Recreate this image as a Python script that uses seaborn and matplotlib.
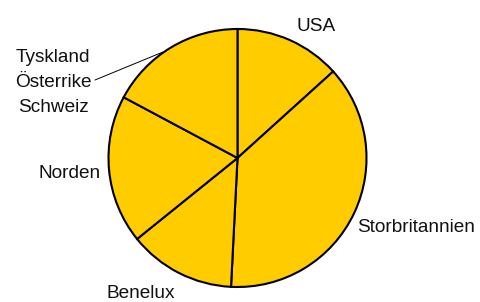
import matplotlib
matplotlib.use("Agg")
import matplotlib.pyplot as plt
import seaborn as sns

# Data (shares, clockwise from 12 o'clock)
regions = ["USA", "Storbritannien", "Benelux", "Norden", "Tyskland\nÖsterrike\nSchweiz"]
shares = [13.3, 37.5, 13.4, 18.6, 17.2]
slice_color = "#FFCC00"

sns.set_theme(style="white")
plt.rcParams["font.family"] = ["Liberation Sans", "DejaVu Sans"]

W, H = 481, 302
fig = plt.figure(figsize=(W / 100, H / 100), dpi=100)
ax = fig.add_axes([0, 0, 1, 1])

CX, CY, R = 237.5, 158.0, 129.0


def px(x, y):
    return ((x - CX) / R, (CY - y) / R)


ax.pie(shares, startangle=90, counterclock=False, radius=1.0,
       colors=[slice_color] * len(shares),
       wedgeprops=dict(edgecolor="black", linewidth=1.5))

ax.set_xlim(px(0, 0)[0], px(W, 0)[0])
ax.set_ylim(px(0, H)[1], px(0, 0)[1])
ax.set_aspect("auto")
ax.axis("off")

fs = 13.7
kw = dict(fontsize=fs, color="#111111", va="baseline")
ax.text(*px(315.7, 30.7), regions[0], ha="center", **kw)
ax.text(*px(357, 231.7), regions[1], ha="left", **kw)
ax.text(*px(140.5, 298), regions[2], ha="center", **kw)
ax.text(*px(101, 177.7), regions[3], ha="right", **kw)
for i, line in enumerate(regions[4].split("\n")):
    ax.text(*px(53, 62.3 + 24.7 * i), line, ha="center", **kw)

ax.annotate("", xy=px(163, 52), xytext=px(95, 80),
            arrowprops=dict(arrowstyle="-", color="black", lw=0.7,
                            shrinkA=0, shrinkB=0))

fig.savefig("out.png", dpi=100)
